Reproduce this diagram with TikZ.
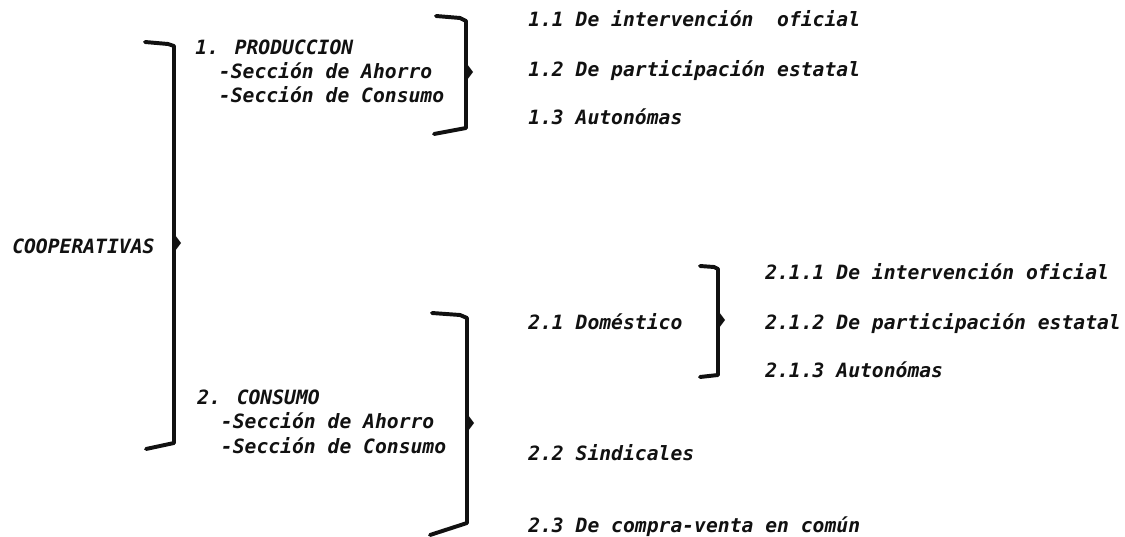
\documentclass[tikz,border=0pt]{standalone}
\usepackage{fontspec}
\setmainfont{DejaVu Sans Mono}
\usepackage{tikz}
\usetikzlibrary{positioning}
\definecolor{coopInk}{HTML}{111111}

\begin{document}
\begin{tikzpicture}[x=0.025cm,y=-0.025cm,
  entry/.style={anchor=base west,inner sep=0pt,align=left,text=coopInk,
    font=\fontsize{14}{17.4}\selectfont\bfseries\itshape},
  brace/.style={line width=2.8pt,draw=coopInk,line join=round,line cap=round},
  tipmark/.style={fill=coopInk}]
\useasboundingbox (0,0) rectangle (1125,537);

% left column (base of a block = its last line)
\node[entry] (coop) at (12,254) {COOPERATIVAS};
\node[entry] (prod) at (195,103)
  {1. PRODUCCION\\\phantom{1.}-Sección de Ahorro\\\phantom{1.}-Sección de Consumo};
\node[entry] (cons) at (197,453)
  {2. CONSUMO\\\phantom{2.}-Sección de Ahorro\\\phantom{2.}-Sección de Consumo};

% right column
\node[entry] (p1) at (528,27) {1.1 De intervención\ \ oficial};
\node[entry] (p2) at (528,77) {1.2 De participación estatal};
\node[entry] (p3) at (528,125) {1.3 Autonómas};
\node[entry] (c1) at (528,329) {2.1 Doméstico};
\node[entry] (c2) at (528,460) {2.2 Sindicales};
\node[entry] (c3) at (528,532) {2.3 De compra-venta en común};
\node[entry] (d1) at (765,280) {2.1.1 De intervención oficial};
\node[entry] (d2) at (765,329) {2.1.2 De participación estatal};
\node[entry] (d3) at (765,377) {2.1.3 Autonómas};

% brackets
\draw[brace] (145,42) -- (168,44) -- (174,46) -- (174,443) -- (146,449);
\fill[tipmark] (175,235) -- (181,243) -- (175,251) -- cycle;
\draw[brace] (436,16) -- (460,18) -- (466,21) -- (466,128) -- (434,134);
\fill[tipmark] (467,64) -- (473,72) -- (467,80) -- cycle;
\draw[brace] (432,313) -- (460,315) -- (467,318) -- (467,523) -- (430,535);
\fill[tipmark] (468,415) -- (474,423) -- (468,431) -- cycle;
\draw[brace] (700,266) -- (714,267) -- (718,269) -- (718,375) -- (700,377);
\fill[tipmark] (719,312) -- (725,320) -- (719,328) -- cycle;
\end{tikzpicture}
\end{document}
